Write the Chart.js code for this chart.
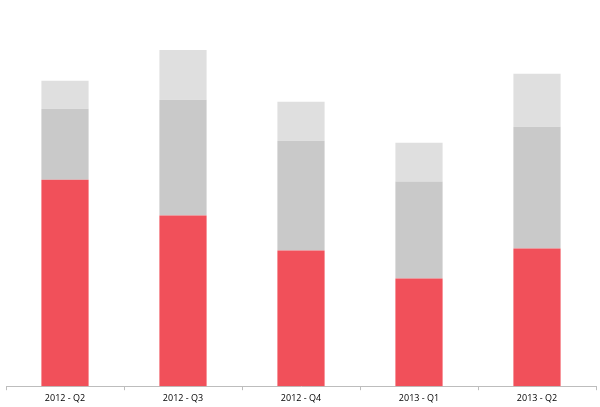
<!DOCTYPE html>
<html>
<head>
<meta charset="utf-8">
<script src="https://cdn.jsdelivr.net/npm/chart.js@4"></script>
<style>
  html, body { margin: 0; padding: 0; background: #fff; }
  #wrap { width: 600px; height: 407px; }
</style>
</head>
<body>
<div id="wrap"><canvas id="quarters"></canvas></div>
<script>
var quarters = ["2012 - Q2", "2012 - Q3", "2012 - Q4", "2013 - Q1", "2013 - Q2"];
var seriesA = [207, 171, 136, 108, 138];
var seriesB = [71, 116, 110, 97, 122];
var seriesC = [28, 50, 39, 39, 53];

var ctx = document.getElementById("quarters").getContext("2d");
var config = {
    type: "bar",
    data: {
        labels: quarters,
        datasets: [{
            label: "A",
            data: seriesA,
            backgroundColor: "#F1505A"
        }, {
            label: "B",
            data: seriesB,
            backgroundColor: "#C9C9C9"
        }, {
            label: "C",
            data: seriesC,
            backgroundColor: "#DFDFDF"
        }]
    },
    options: {
        responsive: true,
        maintainAspectRatio: false,
        animation: false,
        layout: { padding: { left: 6, right: 4, top: 0, bottom: 0 } },
        datasets: { bar: { categoryPercentage: 1, barPercentage: 0.4 } },
        plugins: { legend: { display: false }, tooltip: { enabled: false } },
        scales: {
            x: {
                stacked: true,
                border: { display: true, color: "#BDBDBD" },
                grid: { offset: true, drawOnChartArea: false, drawTicks: true, tickLength: 4, color: "#BDBDBD" },
                ticks: { color: "#000", font: { family: "Open Sans", size: 9 }, padding: 3 }
            },
            y: {
                stacked: true,
                display: false,
                min: 0,
                max: 387
            }
        }
    }
};
var chart = new Chart(ctx, config);
</script>
</body>
</html>
